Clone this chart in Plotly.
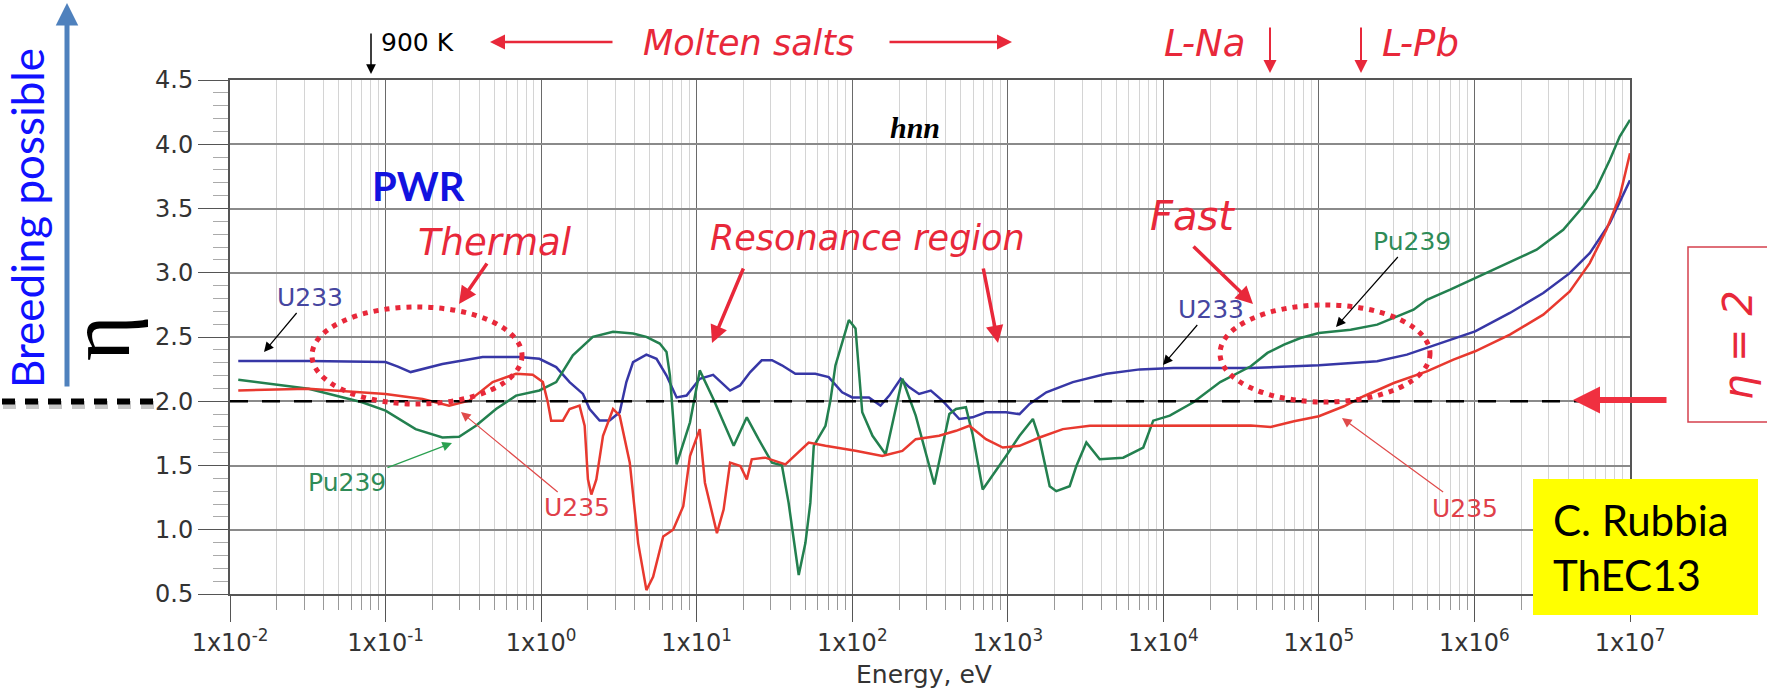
import plotly.graph_objects as go

# Neutron reproduction factor eta versus incident neutron energy (eV)
u233_energy = [0.0113, 0.0324, 0.1, 0.12, 0.145, 0.232, 0.421, 0.724, 0.975, 1.25,
               1.524, 1.858, 2.05, 2.377, 2.754, 3.2, 3.532, 3.9, 4.75, 5.52,
               6.4, 7.43, 8.61, 10.47, 12.76, 16.4, 19.0, 22.1, 26.2, 30.5,
               35.3, 43.1, 57.9, 70.6, 86.1, 100, 128, 152, 173, 205,
               232, 269, 320, 380, 488, 594, 724, 975, 1190, 1380,
               1770, 2620, 4310, 7060, 11600, 36500, 1.0e5, 2.37e5, 3.68e5, 5.74e5,
               1.01e6, 1.69e6, 2.77e6, 4.1e6, 5.51e6, 7.41e6, 1.0e7]
u233_eta = [2.313, 2.313, 2.305, 2.27, 2.227, 2.29, 2.345, 2.345, 2.33, 2.266,
            2.149, 2.057, 1.94, 1.85, 1.85, 1.914, 2.149, 2.305, 2.363, 2.33,
            2.2, 2.03, 2.044, 2.175, 2.206, 2.083, 2.123, 2.227, 2.319, 2.319,
            2.28, 2.214, 2.214, 2.188, 2.07, 2.03, 2.03, 1.966, 2.044, 2.175,
            2.11, 2.057, 2.083, 2.005, 1.862, 1.875, 1.914, 1.914, 1.9, 1.979,
            2.07, 2.149, 2.214, 2.248, 2.258, 2.259, 2.28, 2.311, 2.363, 2.44,
            2.544, 2.687, 2.842, 2.997, 3.153, 3.386, 3.72]

pu239_energy = [0.0113, 0.032, 0.0706, 0.1, 0.156, 0.232, 0.297, 0.381, 0.513, 0.69,
                0.975, 1.25, 1.6, 2.15, 2.9, 3.9, 4.75, 5.79, 6.4, 6.73,
                7.43, 9.06, 10.47, 12.8, 17.3, 21.0, 25.0, 30.5, 35.3, 39.0,
                45.3, 50.0, 53.8, 56.6, 67.3, 72.4, 78.0, 95.1, 105, 116,
                135, 164, 210, 256, 337, 421, 465, 538, 594, 690,
                975, 1190, 1450, 1600, 1860, 2050, 2500, 2760, 3200, 3900,
                5520, 7430, 8610, 11000, 15600, 23200, 36500, 46700, 59700, 76200,
                1.0e5, 1.6e5, 2.37e5, 3.18e5, 4.06e5, 4.94e5, 6.98e5, 1.01e6, 1.53e6, 2.51e6,
                3.72e6, 5.0e6, 6.08e6, 7.41e6, 8.59e6, 1.0e7]
pu239_eta = [2.167, 2.097, 1.992, 1.927, 1.783, 1.718, 1.723, 1.809, 1.94, 2.044,
             2.084, 2.149, 2.358, 2.501, 2.54, 2.527, 2.501, 2.449, 2.384, 2.201,
             1.509, 1.836, 2.24, 2.018, 1.653, 1.875, 1.705, 1.522, 1.501, 1.209,
             0.648, 0.896, 1.209, 1.653, 1.809, 2.005, 2.279, 2.632, 2.567, 1.914,
             1.731, 1.587, 2.175, 1.888, 1.352, 1.901, 1.94, 1.953, 1.744, 1.313,
             1.574, 1.731, 1.862, 1.705, 1.339, 1.3, 1.339, 1.496, 1.679, 1.548,
             1.561, 1.64, 1.849, 1.888, 1.992, 2.149, 2.272, 2.376, 2.44, 2.492,
             2.531, 2.557, 2.596, 2.661, 2.712, 2.79, 2.868, 2.959, 3.062, 3.179,
             3.334, 3.516, 3.658, 3.878, 4.06, 4.19]

u235_energy = [0.0113, 0.032, 0.1, 0.173, 0.256, 0.345, 0.488, 0.69, 0.883, 1.026,
               1.104, 1.161, 1.38, 1.524, 1.766, 1.905, 2.0, 2.104, 2.265, 2.5,
               2.9, 3.2, 3.715, 4.207, 4.753, 5.248, 6.095, 7.06, 8.2, 9.06,
               10.47, 11.3, 13.5, 14.9, 16.4, 19.1, 21.0, 22.6, 27.6, 37.2,
               52.5, 67.3, 105, 156, 210, 256, 362, 465, 566, 724,
               929, 1190, 1600, 2260, 3370, 10000, 36500, 49000, 69200, 1.0e5,
               1.45e5, 1.94e5, 3.03e5, 4.94e5, 7.33e5, 1.01e6, 1.69e6, 2.77e6, 4.1e6, 5.51e6,
               7.05e6, 8.59e6, 1.0e7]
u235_eta = [2.084, 2.097, 2.057, 2.018, 1.966, 2.005, 2.149, 2.214, 2.206, 2.149,
            1.992, 1.849, 1.849, 1.94, 1.966, 1.809, 1.392, 1.274, 1.392, 1.731,
            1.94, 1.888, 1.522, 0.896, 0.53, 0.634, 0.948, 1.0, 1.183, 1.574,
            1.783, 1.366, 0.974, 1.157, 1.522, 1.496, 1.392, 1.548, 1.561, 1.509,
            1.679, 1.653, 1.614, 1.574, 1.614, 1.705, 1.731, 1.77, 1.809, 1.705,
            1.64, 1.653, 1.718, 1.783, 1.809, 1.809, 1.811, 1.8, 1.845, 1.883,
            1.961, 2.039, 2.142, 2.233, 2.324, 2.389, 2.518, 2.674, 2.855, 3.075,
            3.334, 3.593, 3.93]

breeding_threshold = 2.0
x_tick_values = [1e-2, 1e-1, 1e0, 1e1, 1e2, 1e3, 1e4, 1e5, 1e6, 1e7]
x_tick_labels = ["1x10<sup>-2</sup>", "1x10<sup>-1</sup>", "1x10<sup>0</sup>",
                 "1x10<sup>1</sup>", "1x10<sup>2</sup>", "1x10<sup>3</sup>",
                 "1x10<sup>4</sup>", "1x10<sup>5</sup>", "1x10<sup>6</sup>",
                 "1x10<sup>7</sup>"]

# ---- canvas geometry (pixels) ----
W, H = 1767, 692
ML, MR, MT, MB = 230, 137, 80, 98
PW, PH = W - ML - MR, H - MT - MB


def px(x):
    return (x - ML) / PW


def py(y):
    return (H - MB - y) / PH


BLUE, GREEN, RED = "#3737a6", "#23804f", "#e8392f"
RED_TXT = "#e8283a"
SANS = "DejaVu Sans, Liberation Sans, Arial"
HAND = "Comic Sans MS, DejaVu Sans"

fig = go.Figure()
for name, xs, ys, col in [("U233", u233_energy, u233_eta, BLUE),
                          ("Pu239", pu239_energy, pu239_eta, GREEN),
                          ("U235", u235_energy, u235_eta, RED)]:
    fig.add_trace(go.Scatter(x=xs, y=ys, mode="lines", name=name,
                             line=dict(color=col, width=2.5), showlegend=False))

minor_x = [k * 10.0 ** n for n in range(-2, 7) for k in range(2, 10)]
minor_y = [round(0.5 + 0.1 * i, 2) for i in range(41)]

fig.update_layout(
    width=W, height=H,
    margin=dict(l=ML, r=MR, t=MT, b=MB, pad=0),
    paper_bgcolor="white", plot_bgcolor="white",
    xaxis=dict(type="log", range=[-2, 7], tickmode="array",
               tickvals=x_tick_values, ticktext=x_tick_labels,
               tickfont=dict(family=SANS, size=24, color="#333"),
               ticks="outside", ticklen=26, tickwidth=1.3, tickcolor="#555",
               showgrid=True, gridcolor="#6a6a6a", gridwidth=1.2,
               showline=True, linecolor="#555", linewidth=2, mirror=True,
               zeroline=False,
               minor=dict(tickmode="array", tickvals=minor_x, ticks="outside",
                          ticklen=14, tickcolor="#999", tickwidth=1,
                          showgrid=True, gridcolor="#d4d4d4", gridwidth=1)),
    yaxis=dict(range=[0.5, 4.5], tickmode="linear", tick0=0.5, dtick=0.5,
               tickformat=".1f",
               tickfont=dict(family=SANS, size=24, color="#333"),
               ticks="outside", ticklen=30, tickwidth=1.3, tickcolor="#555",
               showgrid=True, gridcolor="#8a8a8a", gridwidth=1.5,
               showline=True, linecolor="#555", linewidth=2, mirror=True,
               zeroline=False,
               minor=dict(tickmode="array", tickvals=minor_y, ticks="outside",
                          ticklen=15, tickcolor="#aaa", tickwidth=1,
                          showgrid=False)),
)

shapes = [
    # eta = 2 threshold
    dict(type="line", xref="paper", x0=0, x1=1, yref="y",
         y0=breeding_threshold, y1=breeding_threshold,
         line=dict(color="black", width=2.5, dash="18px,14px")),
    # thick dashed marker left of the axis, with soft shadow
    dict(type="line", xref="paper", yref="paper", x0=px(3), x1=px(156),
         y0=py(405), y1=py(405),
         line=dict(color="rgba(0,0,0,0.22)", width=8, dash="13px,10px")),
    dict(type="line", xref="paper", yref="paper", x0=px(2), x1=px(155),
         y0=py(401.5), y1=py(401.5),
         line=dict(color="black", width=6, dash="13px,10px")),
    # dotted regions
    dict(type="circle", xref="paper", yref="paper",
         x0=px(312), x1=px(522), y0=py(404), y1=py(307),
         line=dict(color="#e8283a", width=5, dash="5px,6px")),
    dict(type="circle", xref="paper", yref="paper",
         x0=px(1220), x1=px(1430), y0=py(402), y1=py(305),
         line=dict(color="#e8283a", width=5, dash="5px,6px")),
    # eta = 2 box
    dict(type="rect", xref="paper", yref="paper",
         x0=px(1688), x1=px(1775), y0=py(422), y1=py(247),
         line=dict(color="#d5404e", width=1.5)),
    # credit box
    dict(type="rect", xref="paper", yref="paper",
         x0=px(1533), x1=px(1758), y0=py(615), y1=py(479),
         fillcolor="#ffff00", line=dict(width=0), layer="above"),
]
fig.update_layout(shapes=shapes)


def note(text, x, y, size, color, family=SANS, angle=0, xanchor="center",
         yanchor="middle", **font_kw):
    return dict(text=text, x=px(x), y=py(y), xref="paper", yref="paper",
                showarrow=False, textangle=angle, xanchor=xanchor,
                yanchor=yanchor,
                font=dict(size=size, color=color, family=family, **font_kw))


def arrow(tail, tip, color, width, head=2, size=1.0, text="", font=None):
    a = dict(text=text, x=px(tip[0]), y=py(tip[1]), xref="paper", yref="paper",
             ax=tail[0] - tip[0], ay=tail[1] - tip[1],
             showarrow=True, arrowcolor=color, arrowwidth=width,
             arrowhead=head, arrowsize=size)
    if font:
        a["font"] = font
    return a


lab = lambda c: dict(family=SANS, size=25, color=c)

annotations = [
    # curve labels with pointers
    arrow((310, 297), (264, 352), "black", 1.2, size=1.6, text="U233", font=lab("#4646a0")),
    arrow((347, 483), (452, 443), "#2aa050", 1.2, size=1.6, text="Pu239", font=lab("#2e8b57")),
    arrow((577, 508), (461, 412), "#e04a4a", 1.2, size=1.6, text="U235", font=lab("#e0404a")),
    arrow((1211, 309), (1163, 365), "black", 1.2, size=1.6, text="U233", font=lab("#4646a0")),
    arrow((1412, 241), (1336, 327), "black", 1.2, size=1.6, text="Pu239", font=lab("#2e8b57")),
    arrow((1465, 508), (1342, 418), "#e04a4a", 1.2, size=1.6, text="U235", font=lab("#e0404a")),
    # region pointers
    arrow((488, 262), (459, 304), RED_TXT, 3.5, size=1.0),
    arrow((744, 267), (712, 343), RED_TXT, 3.5, size=1.0),
    arrow((983, 267), (998, 343), RED_TXT, 3.5, size=1.0),
    arrow((1192, 245), (1253, 304), RED_TXT, 3.5, size=1.0),
    arrow((1668, 400), (1573, 400), "#f03040", 6, size=0.9),
    # header pointers
    arrow((614, 42), (490, 42), RED_TXT, 2.5, size=1.2),
    arrow((888, 42), (1012, 42), RED_TXT, 2.5, size=1.2),
    arrow((1270, 26), (1270, 73), RED_TXT, 2, size=1.3),
    arrow((1361, 26), (1361, 73), RED_TXT, 2, size=1.3),
    arrow((371, 32), (371, 74), "black", 1.5, size=1.3),
    arrow((67, 388), (67, 3), "#4f81bd", 5, size=0.9),
    # texts
    note("900 K", 379, 42, 25, "black", xanchor="left"),
    note("Molten salts", 748, 43, 35, RED_TXT, HAND, style="italic"),
    note("L-Na", 1204, 43, 37, RED_TXT, HAND, style="italic"),
    note("L-Pb", 1420, 43, 37, RED_TXT, HAND, style="italic"),
    note("hnn", 915, 127, 30, "black", "Liberation Serif, Times New Roman",
         style="italic", weight="bold"),
    note("PWR", 418, 186, 40, "#1212e0", "Lato, Open Sans", weight="bold"),
    note("Thermal", 495, 242, 37, RED_TXT, HAND, style="italic"),
    note("Resonance region", 867, 238, 35, RED_TXT, HAND, style="italic"),
    note("Fast", 1192, 216, 40, RED_TXT, HAND, style="italic"),
    note("η", 99, 338, 88, "black", "Liberation Serif, DejaVu Serif", angle=-90),
    note("Breeding possible", 27, 218, 44, "#1010ff", "Lato, Open Sans", angle=-90),
    note("η = 2", 1738, 345, 40, RED_TXT, HAND, angle=-90, style="italic"),
    note("C. Rubbia<br>ThEC13", 1551, 547, 42, "black", "Lato, Open Sans",
         xanchor="left"),
    note("Energy, eV", 924, 675, 25, "#333"),
]
for a in annotations:
    if a.get("text") == "C. Rubbia<br>ThEC13":
        a["align"] = "left"
fig.update_layout(annotations=annotations)

fig.write_html("out.html")
